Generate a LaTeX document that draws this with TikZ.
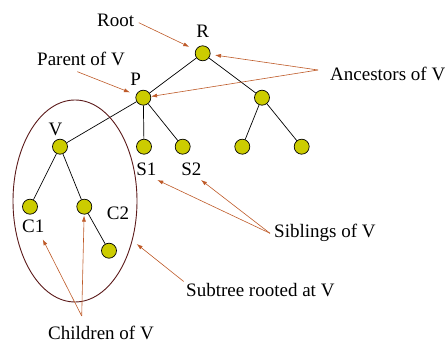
\documentclass[tikz,border=0pt]{standalone}
\usepackage{fontspec}
\setmainfont{Liberation Serif}
\usepackage{tikz}
\usetikzlibrary{arrows.meta}
\definecolor{knot}{RGB}{204,204,0}
\definecolor{pointer}{RGB}{190,90,40}
\definecolor{hull}{RGB}{92,26,26}

\begin{document}
\begin{tikzpicture}[x=1pt,y=-1pt,every node/.style={font=\fontsize{19}{22}\selectfont,inner sep=0pt},
  vert/.style={circle,draw,fill=knot,minimum size=15pt,line width=0.7pt},
  ptr/.style={draw=pointer,line width=0.6pt,-{Latex[length=6pt,width=4pt,fill=pointer]}}]
   \useasboundingbox (0,0) rectangle (448,344);
   % the tree
   \node[vert] (nR) at (202.7,53.3) {};
   \node[vert] (nP) at (143.3,97.7) {};
   \node[vert] (nQ) at (262,97.7) {};
   \node[vert] (nQ1) at (242.3,146.7) {};
   \node[vert] (nQ2) at (301.7,146.7) {};
   \node[vert] (nV) at (60,146.7) {};
   \node[vert] (nS1) at (144,146.7) {};
   \node[vert] (nS2) at (182.7,146.7) {};
   \node[vert] (nC1) at (30,206.7) {};
   \node[vert] (nC2) at (84.3,206.7) {};
   \node[vert] (nG) at (109,250.7) {};
   \draw[line width=0.7pt] (nR) -- (nP) (nR) -- (nQ) (nQ) -- (nQ1) (nQ) -- (nQ2)
      (nP) -- (nV) (nP) -- (nS1) (nP) -- (nS2) (nV) -- (nC1) (nV) -- (nC2) (nC2) -- (nG);
   \draw[hull,line width=0.9pt] (75,201) ellipse [x radius=62,y radius=101];
   % letters on the nodes
   \node (lR) at (202.7,31.3) {R};
   \node (lP) at (135.7,79.7) {P};
   \node (lV) at (55.5,129) {V};
   \node (lS1) at (146.3,169.7) {S1};
   \node (lS2) at (191.3,169.7) {S2};
   \node (lC1) at (33.3,226.7) {C1};
   \node (lC2) at (118,213) {C2};
   % captions
   \node[anchor=base west] (root) at (97,26.7) {Root};
   \node[anchor=base west] (par) at (37,66) {Parent of V};
   \node[anchor=base west] (anc) at (330,81) {Ancestors of V};
   \node[anchor=base west] (sib) at (274,238) {Siblings of V};
   \node[anchor=base west] (sub) at (186,296.7) {Subtree rooted at V};
   \node[anchor=base west] (chl) at (48,339.5) {Children of V};
   \coordinate (ancj) at (318,70);
   \coordinate (sibj) at (270,233.3);
   \coordinate (chlj) at (81.7,316);
   \coordinate (parj) at (77.3,71.7);
   \coordinate (s1tip) at (157.3,180);
   \coordinate (s2tip) at (201,180);
   \coordinate (c1tip) at (42.7,239.3);
   \coordinate (subtip) at (136.7,244);
   % pointers
   \draw[ptr,shorten <=5pt,shorten >=7pt] (root.east) -- (nR);
   \draw[ptr,shorten >=6.5pt] (parj) -- (nP);
   \draw[ptr,shorten >=4.5pt] (ancj) -- (nR);
   \draw[ptr] (ancj) -- (nP);
   \draw[ptr] (sibj) -- (s1tip);
   \draw[ptr] (sibj) -- (s2tip);
   \draw[ptr,shorten <=3pt] (sub.north west) -- (subtip);
   \draw[ptr] (chlj) -- (c1tip);
   \draw[ptr,shorten >=1pt] (chlj) -- (nC2);
\end{tikzpicture}
\end{document}
